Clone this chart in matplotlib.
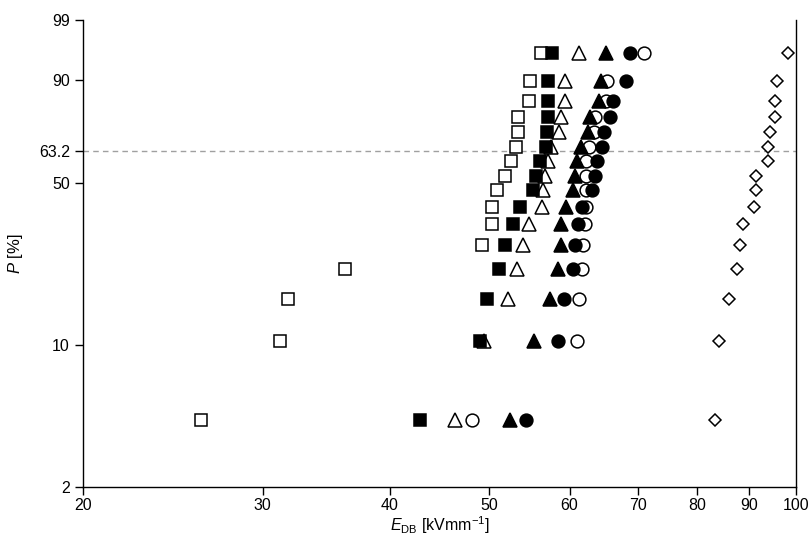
import numpy as np
import matplotlib
matplotlib.use("Agg")
import matplotlib.pyplot as plt
from matplotlib.ticker import FixedLocator, FixedFormatter, NullLocator

# median-rank failure probabilities [%] (16 specimens per series)
p_rank = [4.3, 10.4, 16.5, 22.6, 28.7, 34.8, 40.9, 47.0,
          53.0, 59.1, 65.2, 71.3, 77.4, 83.5, 89.6, 95.7]

# breakdown strength E_DB [kV/mm] per series, sorted
e_open_sq = [26.1, 31.2, 31.8, 36.1, 49.2, 50.3, 50.4, 50.9,
             51.9, 52.6, 53.2, 53.4, 53.4, 54.7, 54.9, 56.3]
e_fill_sq = [42.8, 49.0, 49.8, 51.2, 51.9, 52.8, 53.6, 55.2,
             55.6, 56.1, 56.9, 57.0, 57.1, 57.2, 57.2, 57.7]
e_open_tri = [46.3, 49.4, 52.2, 53.3, 54.0, 54.7, 56.4, 56.5,
              56.8, 57.1, 57.5, 58.6, 58.9, 59.4, 59.4, 61.3]
e_fill_tri = [52.4, 55.4, 57.4, 58.5, 58.8, 58.9, 59.5, 60.4,
              60.7, 61.0, 61.6, 62.6, 62.8, 64.1, 64.4, 65.1]
e_fill_circ = [54.4, 58.5, 59.2, 60.4, 60.8, 61.1, 61.7, 63.1,
               63.5, 63.8, 64.5, 64.8, 65.7, 66.2, 68.1, 68.7]
e_open_circ = [48.1, 61.0, 61.3, 61.7, 61.8, 62.1, 62.3, 62.2,
               62.3, 62.3, 62.7, 63.4, 63.5, 65.1, 65.3, 70.9]
e_diamond = [83.4, 84.1, 86.0, 87.6, 88.2, 88.7, 90.9, 91.4,
             91.4, 93.9, 93.9, 94.3, 95.3, 95.4, 95.8, 98.3]

x_ticks = [20, 30, 40, 50, 60, 70, 80, 90, 100]
y_ticks = [2, 10, 50, 63.2, 90, 99]
y_tick_labels = ["2", "10", "50", "63.2", "90", "99"]

plt.rcParams["font.family"] = ["Liberation Sans", "DejaVu Sans"]
plt.rcParams["mathtext.fontset"] = "custom"
plt.rcParams["mathtext.rm"] = "Liberation Sans"
plt.rcParams["mathtext.it"] = "Liberation Sans:italic"


def weibull_fwd(p):
    p = np.clip(np.asarray(p, dtype=float), 1e-6, 100 - 1e-6)
    return np.log(-np.log(1 - p / 100.0))


def weibull_inv(w):
    return 100.0 * (1 - np.exp(-np.exp(np.asarray(w, dtype=float))))


fig = plt.figure(figsize=(8.08, 5.42), dpi=100)
ax = fig.add_axes([0.1027, 0.1015, 0.8823, 0.8615])

ax.set_xscale("log")
ax.set_yscale("function", functions=(weibull_fwd, weibull_inv))

ax.axhline(63.2, color="#a0a0a0", lw=1.0, ls=(0, (4, 3)), zorder=1)

ms = 8
mew = 1.1
series = [
    (e_open_circ, "o", "white", 9.2, 2),
    (e_open_tri, "^", "white", 9.5, 3),
    (e_open_sq, "s", "white", ms, 4),
    (e_diamond, "D", "white", 6.5, 4),
    (e_fill_sq, "s", "black", ms, 5),
    (e_fill_tri, "^", "black", 9.5, 6),
    (e_fill_circ, "o", "black", 9.2, 7),
]
for vals, mk, fc, size, z in series:
    ax.plot(vals, p_rank, ls="none", marker=mk, ms=size, mfc=fc,
            mec="black", mew=mew, zorder=z)

ax.set_xlim(20, 100)
ax.set_ylim(2, 99)

ax.xaxis.set_major_locator(FixedLocator(x_ticks))
ax.xaxis.set_major_formatter(FixedFormatter([str(v) for v in x_ticks]))
ax.xaxis.set_minor_locator(NullLocator())
ax.yaxis.set_major_locator(FixedLocator(y_ticks))
ax.yaxis.set_major_formatter(FixedFormatter(y_tick_labels))
ax.yaxis.set_minor_locator(NullLocator())

ax.tick_params(axis="both", direction="out", length=6, width=1.0,
               labelsize=11.5, colors="black")
ax.tick_params(axis="x", pad=2)

ax.spines["top"].set_visible(False)
for s in ("left", "bottom", "right"):
    ax.spines[s].set_linewidth(1.0)

ax.set_xlabel(r"$E_{\mathrm{DB}}$ [kVmm$^{-1}$]", fontsize=11.5, labelpad=1)
ax.set_ylabel(r"$P$ [%]", fontsize=12, labelpad=10)

fig.savefig("out.png", dpi=100)
